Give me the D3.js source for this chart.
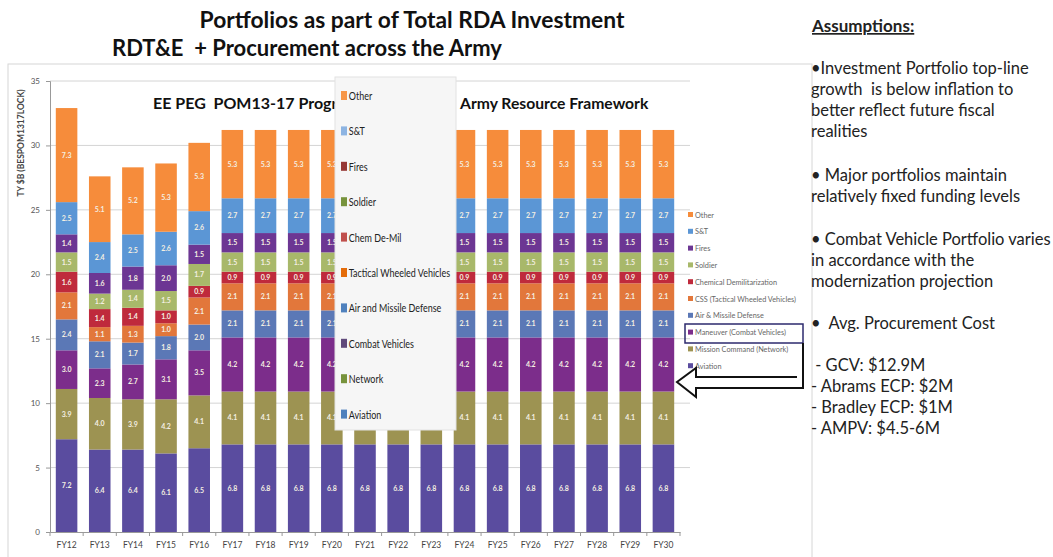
<!DOCTYPE html>
<html>
<head>
<meta charset="UTF-8">
<title>Portfolios as part of Total RDA Investment</title>
<script src="https://cdnjs.cloudflare.com/ajax/libs/d3/7.8.5/d3.min.js"></script>
<style>
  body { margin: 0; background: #fff; }
  svg text { font-family: Lato, "Open Sans", sans-serif; white-space: pre; }
</style>
</head>
<body>
<script>
  // fiscal years
  var years = ["FY12","FY13","FY14","FY15","FY16","FY17","FY18","FY19","FY20","FY21",
               "FY22","FY23","FY24","FY25","FY26","FY27","FY28","FY29","FY30"];

  // portfolio values, TY $B, stacked bottom to top
  var aviation   = [7.2, 6.4, 6.4, 6.1, 6.5, 6.8, 6.8, 6.8, 6.8, 6.8, 6.8, 6.8, 6.8, 6.8, 6.8, 6.8, 6.8, 6.8, 6.8];
  var network    = [3.9, 4.0, 3.9, 4.2, 4.1, 4.1, 4.1, 4.1, 4.1, 4.1, 4.1, 4.1, 4.1, 4.1, 4.1, 4.1, 4.1, 4.1, 4.1];
  var maneuver   = [3.0, 2.3, 2.7, 3.1, 3.5, 4.2, 4.2, 4.2, 4.2, 4.2, 4.2, 4.2, 4.2, 4.2, 4.2, 4.2, 4.2, 4.2, 4.2];
  var airMissile = [2.4, 2.1, 1.7, 1.8, 2.0, 2.1, 2.1, 2.1, 2.1, 2.1, 2.1, 2.1, 2.1, 2.1, 2.1, 2.1, 2.1, 2.1, 2.1];
  var css        = [2.1, 1.1, 1.3, 1.0, 2.1, 2.1, 2.1, 2.1, 2.1, 2.1, 2.1, 2.1, 2.1, 2.1, 2.1, 2.1, 2.1, 2.1, 2.1];
  var chemDemil  = [1.6, 1.4, 1.4, 1.0, 0.9, 0.9, 0.9, 0.9, 0.9, 0.9, 0.9, 0.9, 0.9, 0.9, 0.9, 0.9, 0.9, 0.9, 0.9];
  var soldier    = [1.5, 1.2, 1.4, 1.5, 1.7, 1.5, 1.5, 1.5, 1.5, 1.5, 1.5, 1.5, 1.5, 1.5, 1.5, 1.5, 1.5, 1.5, 1.5];
  var fires      = [1.4, 1.6, 1.8, 2.0, 1.5, 1.5, 1.5, 1.5, 1.5, 1.5, 1.5, 1.5, 1.5, 1.5, 1.5, 1.5, 1.5, 1.5, 1.5];
  var st         = [2.5, 2.4, 2.5, 2.6, 2.6, 2.7, 2.7, 2.7, 2.7, 2.7, 2.7, 2.7, 2.7, 2.7, 2.7, 2.7, 2.7, 2.7, 2.7];
  var other      = [7.3, 5.1, 5.2, 5.3, 5.3, 5.3, 5.3, 5.3, 5.3, 5.3, 5.3, 5.3, 5.3, 5.3, 5.3, 5.3, 5.3, 5.3, 5.3];

  var yTicks = [0, 5, 10, 15, 20, 25, 30, 35];

  var seriesKeys = ["aviation","network","maneuver","airMissile","css","chemDemil","soldier","fires","st","other"];
  var seriesVals = [aviation, network, maneuver, airMissile, css, chemDemil, soldier, fires, st, other];
  var barColors  = ["#5a4c9f","#9d9352","#7c2d8b","#5b78b6","#e2773b","#bf2a3c","#a8b86a","#6c3693","#5b96d5","#f68c3b"];

  // right-hand small legend (top to bottom)
  var smallLegend = ["Other","S&T","Fires","Soldier","Chemical Demilitarization","CSS (Tactical Wheeled Vehicles)",
                     "Air & Missile Defense","Maneuver (Combat Vehicles)","Mission Command (Network)","Aviation"];
  var smallColors = ["#f68c3b","#5b96d5","#6c3693","#a8b86a","#bf2a3c","#e2773b","#5b78b6","#7c2d8b","#9d9352","#5a4c9f"];

  // overlay legend box (top to bottom)
  var boxLegend = ["Other","S&T","Fires","Soldier","Chem De-Mil","Tactical Wheeled Vehicles",
                   "Air and Missile Defense","Combat Vehicles","Network","Aviation"];
  var boxColors = ["#f79646","#8db4e2","#953735","#77933c","#c0504d","#e46c0a","#4f81bd","#604a7b","#77933c","#4f81bd"];

  var notes = [
    {t: "\u2022Investment Portfolio top-line", y: 74},
    {t: "growth  is below inflation to", y: 95},
    {t: "better reflect future fiscal", y: 116},
    {t: "realities", y: 137},
    {t: "\u2022 Major portfolios maintain", y: 181},
    {t: "relatively fixed funding levels", y: 202},
    {t: "\u2022 Combat Vehicle Portfolio varies", y: 245},
    {t: "in accordance with the", y: 266},
    {t: "modernization projection", y: 287},
    {t: "\u2022  Avg. Procurement Cost", y: 329},
    {t: " - GCV: $12.9M", y: 371},
    {t: "- Abrams ECP: $2M", y: 392},
    {t: "- Bradley ECP: $1M", y: 413},
    {t: "- AMPV: $4.5-6M", y: 434}
  ];

  var W = 1053, H = 557;
  var svg = d3.select("body").append("svg").attr("width", W).attr("height", H);

  var rows = years.map(function(y, i) {
    var r = {year: y};
    seriesKeys.forEach(function(k, j) { r[k] = seriesVals[j][i]; });
    return r;
  });
  var stacked = d3.stack().keys(seriesKeys)(rows);

  var x = d3.scaleBand().domain(years).range([50, 680]).paddingInner(0.35).paddingOuter(0.175);
  var y = d3.scaleLinear().domain([0, 35]).range([532, 81]);

  // overlay legend box geometry (pasted over the chart in the original slide)
  var box = {x: 335, y: 77, w: 121, h: 353};

  // slide titles
  svg.append("text").attr("x", 412).attr("y", 28).attr("text-anchor", "middle")
    .style("font-size", "22.8px").style("font-weight", "bold").attr("fill", "#111")
    .text("Portfolios as part of Total RDA Investment");
  svg.append("text").attr("x", 112).attr("y", 56)
    .style("font-size", "22px").style("font-weight", "bold").attr("fill", "#111")
    .text("RDT&E  + Procurement across the Army");

  // chart picture frame
  svg.append("rect").attr("x", 8).attr("y", 64).attr("width", 804).attr("height", 500)
    .attr("fill", "none").attr("stroke", "#d6d6d6");

  // grid
  svg.append("g").selectAll("line").data(yTicks.slice(1)).join("line")
    .attr("x1", 50).attr("x2", 690).attr("y1", function(d){ return y(d); }).attr("y2", function(d){ return y(d); })
    .attr("stroke", "#d4d4d4");

  // y axis
  var ya = svg.append("g").attr("transform", "translate(50,0)")
    .call(d3.axisLeft(y).tickValues(yTicks).tickSize(4).tickPadding(6));
  ya.select(".domain").attr("stroke", "#999");
  ya.selectAll(".tick line").attr("stroke", "#999");
  ya.selectAll("text").style("font-size", "8px").attr("fill", "#555");

  svg.append("text").attr("transform", "translate(24,143) rotate(-90)").attr("text-anchor", "middle")
    .style("font-size", "8.5px").style("font-weight", "bold").attr("fill", "#444")
    .text("TY $B (BESPOM1317LOCK)");

  // x axis
  var xa = svg.append("g").attr("transform", "translate(0,532)")
    .call(d3.axisBottom(x).tickSize(0).tickPadding(10));
  xa.select(".domain").attr("stroke", "#999");
  xa.selectAll("text").style("font-size", "8.5px").attr("fill", "#444");
  svg.append("g").selectAll("line").data(years.concat(["end"])).join("line")
    .attr("x1", function(d, i){ return 50 + i * x.step(); })
    .attr("x2", function(d, i){ return 50 + i * x.step(); })
    .attr("y1", 532).attr("y2", 536).attr("stroke", "#999");

  // bars
  var layers = svg.append("g").selectAll("g").data(stacked).join("g")
    .attr("fill", function(d, i){ return barColors[i]; });
  layers.selectAll("rect").data(function(d){ return d; }).join("rect")
    .attr("x", function(d){ return x(d.data.year); })
    .attr("width", x.bandwidth())
    .attr("y", function(d){ return y(d[1]); })
    .attr("height", function(d){ return y(d[0]) - y(d[1]); });

  // value labels (the ones hidden under the pasted legend are not drawn)
  function hidden(d) {
    var cx = x(d.data.year) + x.bandwidth() / 2, cy = (y(d[0]) + y(d[1])) / 2;
    return cx > box.x && cx < box.x + box.w && cy < box.y + box.h;
  }
  var lab = svg.append("g").selectAll("g").data(stacked).join("g");
  lab.selectAll("text").data(function(d){ return d.filter(function(e){ return !hidden(e); }); }).join("text")
    .attr("x", function(d){ return x(d.data.year) + x.bandwidth() / 2; })
    .attr("y", function(d){ return (y(d[0]) + y(d[1])) / 2 + 2.5; })
    .attr("text-anchor", "middle")
    .style("font-size", "7px").style("font-weight", "bold").attr("fill", "#f4efe2")
    .text(function(d){ return (d[1] - d[0]).toFixed(1); });

  // chart inner title pieces
  svg.append("text").attr("x", 153).attr("y", 109)
    .style("font-size", "16px").style("font-weight", "bold").attr("fill", "#111")
    .text("EE PEG  POM13-17 Progra");
  svg.append("text").attr("x", 460).attr("y", 109)
    .style("font-size", "15.7px").style("font-weight", "bold").attr("fill", "#111")
    .text("Army Resource Framework");

  // small legend on right
  var sl = svg.append("g").selectAll("g").data(smallLegend).join("g")
    .attr("transform", function(d, i){ return "translate(688," + (215 + i * 16.8) + ")"; });
  sl.append("rect").attr("x", 0).attr("y", -3).attr("width", 5).attr("height", 5)
    .attr("fill", function(d, i){ return smallColors[i]; });
  sl.append("text").attr("x", 7).attr("y", 2.5).style("font-size", "7.3px").attr("fill", "#666")
    .text(function(d){ return d; });

  // highlight box and arrow
  svg.append("rect").attr("x", 685).attr("y", 324).attr("width", 118).attr("height", 19)
    .attr("fill", "none").attr("stroke", "#2d2a6e").attr("stroke-width", 1.5);
  svg.append("path")
    .attr("d", "M803,343 L803,388 L696,388 L696,397 L677,382 L696,368 L696,377 L797,377")
    .attr("fill", "#fff").attr("stroke", "#111").attr("stroke-width", 2);

  // overlay legend box
  var lb = svg.append("g");
  lb.append("rect").attr("x", box.x).attr("y", box.y).attr("width", box.w).attr("height", box.h)
    .attr("fill", "#f6f6f6").attr("stroke", "#e2e2e2");
  var bi = lb.selectAll("g").data(boxLegend).join("g")
    .attr("transform", function(d, i){ return "translate(341," + (96 + i * 35.4) + ")"; });
  bi.append("rect").attr("x", 0).attr("y", -5).attr("width", 6).attr("height", 9)
    .attr("fill", function(d, i){ return boxColors[i]; });
  bi.append("text").attr("x", 10).attr("y", 4).style("font-size", "11.5px").attr("fill", "#222")
    .attr("transform", "scale(0.78,1)")
    .text(function(d){ return d; });

  // assumptions
  svg.append("text").attr("x", 812).attr("y", 32)
    .style("font-size", "17px").style("font-weight", "bold").attr("fill", "#222")
    .style("text-decoration", "underline")
    .text("Assumptions:");
  svg.append("g").selectAll("text").data(notes).join("text")
    .attr("x", 811).attr("y", function(d){ return d.y; })
    .style("font-size", "16.5px").attr("fill", "#222")
    .text(function(d){ return d.t; });
</script>
</body>
</html>
